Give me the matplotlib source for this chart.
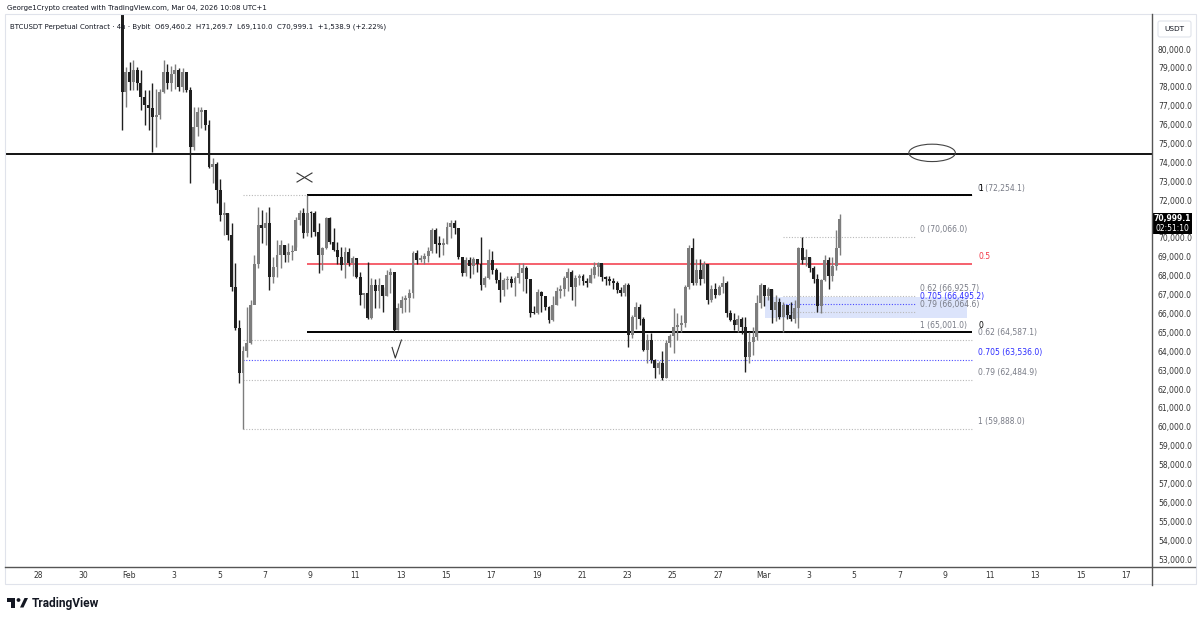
import numpy as np
import pandas as pd
import matplotlib
matplotlib.use('Agg')
import matplotlib.pyplot as plt
import matplotlib.patches as mpatches
import matplotlib.dates as mdates

plt.rcParams['font.family'] = ['DejaVu Sans']

##################################################
# BTCUSDT perp, Bybit, 4h candles (UTC+1), first one Jan 31 17:00
first_open = 82600
closes = [77740, 78800, 78270, 78890, 78200, 77470, 77030, 76870, 76400, 76500,
          77740, 78800, 78200, 78700, 78900, 78000, 78800, 77830, 74830, 75890,
          76680, 76750, 76000, 73770, 73900, 72530, 71210, 71300, 70150, 67400,
          65230, 62850, 64000, 64440, 66450, 68620, 70680, 70520, 70800, 67930,
          68460, 69100, 69620, 69100, 69250, 69300, 70950, 71320, 70260, 71320,
          71300, 70300, 69100, 69460, 71050, 69780, 69360, 68990, 68570, 69250,
          68670, 68930, 67930, 66980, 67100, 65760, 67500, 67200, 67500, 66900,
          68040, 68200, 65120, 66290, 66700, 66800, 67080, 69200, 68850, 68900,
          69050, 69300, 70420, 69700, 69650, 69700, 70580, 70790, 70500, 68990,
          68140, 68830, 68500, 68900, 68600, 67500, 67900, 68830, 68300, 67780,
          67250, 67780, 67850, 67600, 67900, 68140, 68400, 67800, 66030, 66000,
          67140, 66900, 66340, 65650, 66450, 67200, 67300, 67880, 68200, 67400,
          67900, 68000, 67700, 67600, 68050, 68460, 68650, 67930, 67800, 67700,
          67600, 67240, 67100, 67500, 64860, 65800, 66340, 65700, 64070, 64600,
          63540, 63100, 63400, 62600, 64450, 64800, 65300, 65400, 65500, 67400,
          69460, 67600, 68300, 67800, 68600, 66700, 67300, 67000, 67400, 67600,
          66030, 65650, 65400, 65700, 65300, 63700, 64500, 64750, 66550, 67500,
          66900, 67300, 66200, 66600, 65800, 66450, 65900, 65700, 66300, 69460,
          68830, 69000, 68400, 67800, 66400, 67770, 68830, 68000, 68500, 69460,
          70999.1]
highs = [82900, 79060, 79330, 79420, 79050, 78900, 77830, 77830, 78200, 77900,
         77900, 79420, 79200, 79100, 79200, 79000, 79000, 78300, 78000, 76950,
         76950, 76950, 76700, 76240, 74230, 74000, 73100, 71900, 71300, 70800,
         68670, 65650, 64300, 66340, 66700, 69100, 71640, 71480, 71370, 71640,
         68990, 69890, 69890, 69620, 69730, 69620, 71100, 71480, 71600, 72254.1,
         71400, 71400, 70790, 69520, 71100, 71100, 70500, 69800, 69520, 69520,
         69460, 69050, 68900, 68200, 67100, 68720, 67900, 67800, 67900, 67400,
         68300, 68400, 68200, 66550, 66900, 67000, 67300, 69300, 69360, 69100,
         69200, 69500, 70500, 70500, 70100, 70000, 70850, 70950, 70950, 70500,
         69000, 69000, 69000, 69000, 68900, 70050, 68000, 69400, 69300, 68400,
         68200, 67900, 68000, 68000, 68000, 68650, 68650, 68500, 67800, 66400,
         67300, 67200, 66950, 66400, 66950, 67400, 67500, 68000, 68400, 68300,
         68050, 68100, 68100, 67900, 68400, 68700, 68700, 68600, 68000, 68000,
         67900, 67700, 67400, 67600, 67600, 65900, 66600, 66500, 65800, 64900,
         64950, 63600, 63500, 64000, 64600, 64900, 66300, 66000, 65900, 67500,
         69600, 70000, 68900, 68900, 68800, 68600, 67500, 67600, 67500, 68000,
         67700, 66200, 66000, 65900, 65800, 65800, 65000, 65300, 67000, 67600,
         67500, 67400, 67300, 67000, 66800, 66600, 66400, 66600, 66700, 69520,
         70066, 69400, 69000, 68500, 68100, 67800, 69100, 69000, 69000, 70400,
         71269.7]
lows = [75710, 76950, 77830, 77830, 77830, 76770, 76000, 75710, 74560, 74800,
        76300, 77650, 77900, 77800, 77900, 77800, 77700, 77700, 72900, 74650,
        75400, 75800, 75700, 73700, 72900, 71850, 70900, 70150, 69890, 67200,
        65120, 62320, 59888.0, 63700, 64400, 66550, 68400, 69730, 69620, 67240,
        67610, 67930, 68400, 68720, 68720, 68830, 69520, 70680, 69990, 70100,
        70050, 70100, 68140, 68300, 69400, 69700, 69300, 68600, 68300, 67880,
        68500, 68000, 67900, 66440, 66300, 65700, 65700, 66300, 66270, 66100,
        66900, 67100, 65001.0, 65120, 66000, 66100, 66100, 66800, 68600, 68700,
        68600, 68700, 69200, 69200, 69000, 69100, 69700, 70000, 70200, 68900,
        68000, 67990, 67900, 68100, 68200, 67240, 67400, 67800, 68100, 67600,
        66600, 66900, 67300, 67400, 66900, 67600, 67200, 67100, 65820, 65950,
        65950, 66100, 66200, 65500, 65600, 66450, 66800, 66950, 67200, 66700,
        66400, 67500, 67500, 67400, 67600, 67900, 68000, 67700, 67500, 67500,
        67300, 67100, 66900, 66900, 64200, 64700, 65200, 65400, 64000, 63400,
        63400, 62600, 62800, 62484.9, 62600, 64200, 63900, 64600, 65000, 65300,
        67300, 67500, 67500, 67500, 67600, 66500, 66600, 66800, 67000, 67100,
        65800, 65600, 65100, 65000, 64900, 62900, 63400, 63800, 64600, 66300,
        66400, 66700, 65500, 65600, 65700, 65000, 65700, 65600, 65500, 65230,
        68600, 68500, 68200, 67600, 66065, 66020, 67700, 67300, 67700, 68300,
        69110.0]

# drawn levels
key_level = 74441
range_hi, range_lo = 72254.1, 65001.0        # range fib: 1 at top, 0 at bottom
fib2_hi, fib2_lo = 72254.1, 59888.0          # 0 at top, 1 at low
fib3_hi, fib3_lo = 70066.0, 65001.0          # 0 at top, 1 at bottom
fib_ratios = [0, 0.62, 0.705, 0.79, 1]
zone_top, zone_bot = 66890, 65750

##################################################
times = pd.date_range('2026-01-31 17:00', periods=len(closes), freq='4h')
x = mdates.date2num(times.to_pydatetime())
o = np.array([first_open] + closes[:-1], dtype=float)
c = np.array(closes, dtype=float)
h = np.array(highs, dtype=float)
l = np.array(lows, dtype=float)
up = c >= o
col = np.where(up, '#7d7d7d', '#1f1f1f')

d0 = mdates.date2num(pd.Timestamp('2026-01-28').to_pydatetime())
def day(d):
    return d0 + d

fig = plt.figure(figsize=(12, 6.22), dpi=100)
ax = fig.add_axes([5/1200, 55/622, 1147/1200, 553/622])
ax.set_xlim(day(-1.456), day(49.14))
ax.set_ylim(52577, 81853)

# candles
ax.vlines(x, l, h, colors=col, lw=1.0, zorder=3)
body = np.where(np.abs(c - o) < 60, 60, np.abs(c - o))
ax.bar(x, body, bottom=np.minimum(o, c), width=0.13, color=col, lw=0, zorder=3)

# key horizontal + ellipse
ax.axhline(key_level, color='black', lw=1.3, zorder=2)
ax.add_patch(mpatches.Ellipse((day(39.44), key_level + 60), 2.05, 920, fill=False,
                              ec='#444444', lw=0.8, zorder=4))

# fib 2 (swing high -> low)
x2a, x2b = x[32], day(41.2)
for r in fib_ratios:
    lv = fib2_hi - r * (fib2_hi - fib2_lo)
    cl = '#4a4aff' if r == 0.705 else '#b8b8b8'
    ax.hlines(lv, x2a, x2b, colors=cl, lw=0.8, linestyles=(0, (1, 1.5)), zorder=1)
    ax.annotate(f'{r:g} ({lv:,.1f})', (day(41.465), lv), xytext=(0, 2), textcoords='offset points',
                va='bottom', ha='left', fontsize=5.5, color='#2b2bff' if r == 0.705 else '#787b86')

# range fib ("1" is written over the "0" of fib 2, as on the chart)
xra, xrb = x[49], day(41.2)
for r, cl, lw in [(1, 'black', 1.4), (0.5, '#f23645', 1.1), (0, 'black', 1.4)]:
    lv = range_lo + r * (range_hi - range_lo)
    ax.hlines(lv, xra, xrb, colors=cl, lw=lw, zorder=2)
    ax.annotate(f'{r:g}', (day(41.465), lv), xytext=(0, 2), textcoords='offset points',
                va='bottom', ha='left', fontsize=5.5, color=cl)

# fib 3 (small) + zone
ax.add_patch(mpatches.Rectangle((day(32.07), zone_bot), 40.98 - 32.07, zone_top - zone_bot,
                                fc='#d9e2fb', ec='none', alpha=0.9, zorder=0.5))
x3a, x3b = x[175], day(38.69)
for r in fib_ratios:
    lv = fib3_hi - r * (fib3_hi - fib3_lo)
    cl = '#4a4aff' if r == 0.705 else '#b8b8b8'
    ax.hlines(lv, x3a, x3b, colors=cl, lw=0.8, linestyles=(0, (1, 1.5)), zorder=1)
    ax.annotate(f'{r:g} ({lv:,.1f})', (day(38.9), lv), xytext=(0, 2), textcoords='offset points',
                va='bottom', ha='left', fontsize=5.5, color='#2b2bff' if r == 0.705 else '#787b86',
                zorder=5)

# hand marks: cross above the high, tick under the low
cx, cy = day(11.756), 73197
ax.plot([cx - 0.33, cx + 0.33], [cy + 238, cy - 238], color='#333333', lw=0.8)
ax.plot([cx - 0.33, cx + 0.33], [cy - 238, cy + 238], color='#333333', lw=0.8)
ax.plot([day(15.62), day(15.76), day(16.03)], [64200, 63642, 64594], color='#333333', lw=0.8)

# axes
yt = [v for v in range(53000, 81000, 1000) if v != 71000]
ax.yaxis.tick_right()
ax.set_yticks(yt)
ax.set_yticklabels([f'{v:,.1f}' for v in yt])
ticks = pd.date_range('2026-01-28', '2026-03-17', freq='2D')
ax.set_xticks(mdates.date2num(ticks.to_pydatetime()))
ax.set_xticklabels([t.strftime('%b') if t.day == 1 else str(t.day) for t in ticks])
ax.tick_params(axis='y', length=0, pad=4.3, labelsize=5.5, labelcolor='#333333')
ax.tick_params(axis='x', length=0, pad=3, labelsize=5.5, labelcolor='#333333')
for s in ax.spines.values():
    s.set_visible(False)

##################################################
# overlay in pixel coords: frame, header, price tags, logo
ov = fig.add_axes([0, 0, 1, 1], zorder=5)
ov.set_xlim(0, 1200)
ov.set_ylim(622, 0)
ov.axis('off')
ov.patch.set_alpha(0)
ov.add_patch(mpatches.Rectangle((4.5, 14), 1191, 570, fill=False, ec='#e0e3eb', lw=0.8))
ov.plot([1152, 1152], [14, 585], color='#555555', lw=1)
ov.plot([5, 1195], [567, 567], color='#555555', lw=1)

ov.text(7, 8, 'George1Crypto created with TradingView.com, Mar 04, 2026 10:08 UTC+1',
        fontsize=5.0, color='#131722', va='center')
ov.text(10, 27, 'BTCUSDT Perpetual Contract · 4h · Bybit  O69,460.2  H71,269.7  L69,110.0  '
        'C70,999.1  +1,538.9 (+2.22%)', fontsize=5.0, color='#131722', va='center')

ov.add_patch(mpatches.FancyBboxPatch((1158, 21), 33, 16, boxstyle='round,pad=0,rounding_size=2',
                                     fc='white', ec='#e0e3eb', lw=0.8))
ov.text(1174.5, 29, 'USDT', fontsize=5.3, color='#131722', ha='center', va='center')

ov.add_patch(mpatches.Rectangle((1153, 213), 39, 21, fc='black', ec='none'))
ov.text(1172.5, 218.5, '70,999.1', fontsize=5.5, color='white', ha='center', va='center',
        fontweight='bold')
ov.text(1172.5, 228.5, '02:51:10', fontsize=5.5, color='white', ha='center', va='center')

# TradingView logo
ov.add_patch(mpatches.Rectangle((7, 598), 8, 3.5, fc='#131722', ec='none'))
ov.add_patch(mpatches.Rectangle((11, 598), 4, 9.5, fc='#131722', ec='none'))
ov.add_patch(mpatches.Circle((18.5, 600), 1.9, fc='#131722', ec='none'))
ov.add_patch(mpatches.Polygon([(20, 607.5), (23.5, 607.5), (28, 598), (24.5, 598)],
                              fc='#131722', ec='none'))
ov.text(32, 603, 'TradingView', fontsize=8.6, fontweight='bold', family='Roboto',
        color='#131722', va='center')

fig.savefig('out.png', dpi=100, facecolor='white')
